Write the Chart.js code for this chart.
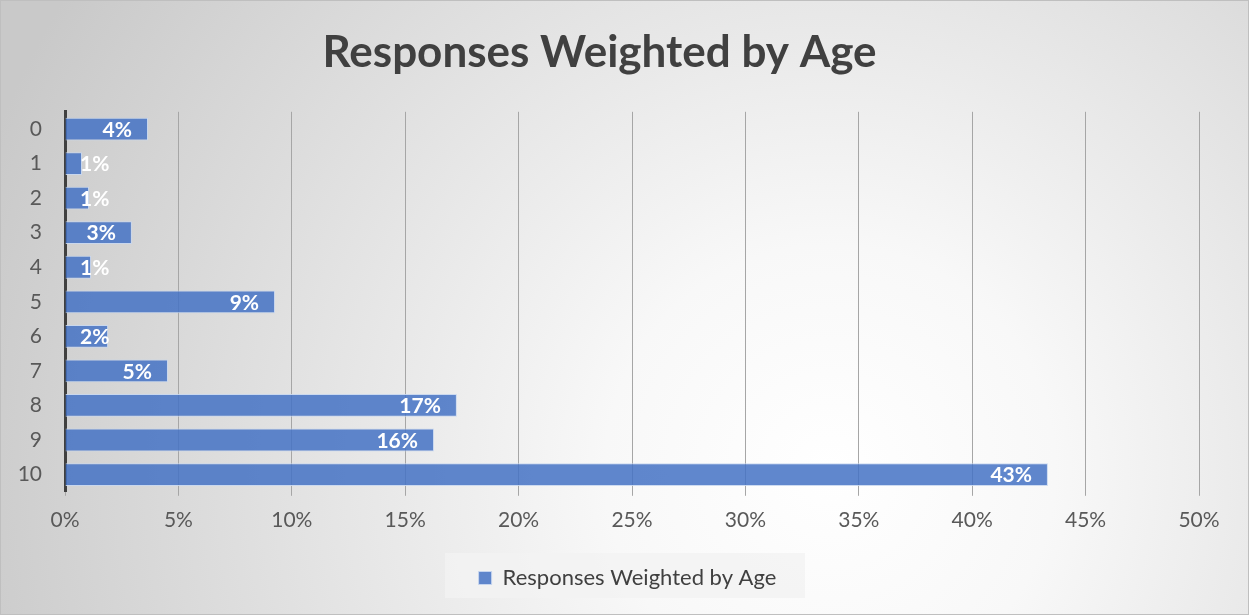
<!DOCTYPE HTML><html>
<head>
  <meta charset="utf-8">
  <script src="https://cdn.jsdelivr.net/npm/chart.js"></script>
  <style>
    html, body { margin: 0; padding: 0; background: #fff; }
    #wrap { width: 1249px; height: 615px; position: relative; }
  </style>
</head>
<body>
  <div id="wrap"><canvas id="ageChart" width="1249" height="615"></canvas></div>
<script>
  // data
  const ages = ['0', '1', '2', '3', '4', '5', '6', '7', '8', '9', '10'];
  const weightedShare = [3.66, 0.75, 1.06, 2.95, 1.15, 9.26, 1.9, 4.54, 17.28, 16.27, 43.34];
  const xTicks = [0, 5, 10, 15, 20, 25, 30, 35, 40, 45, 50];
  const seriesName = 'Responses Weighted by Age';

  const FONT = 'Lato, "Open Sans", sans-serif';

  // radial grey background + legend box
  const backdrop = {
    id: 'backdrop',
    afterLayout(chart) {
      // centre the legend on the whole canvas, not the padded area
      if (chart.legend) chart.legend.right = chart.width + 6;
    },
    beforeDraw(chart) {
      const c = chart.ctx, w = chart.width, h = chart.height;
      c.save();
      const g = c.createRadialGradient(830, 470, 0, 830, 470, 900);
      g.addColorStop(0, '#ffffff');
      g.addColorStop(0.25, '#f8f8f8');
      g.addColorStop(1, '#c9c9c9');
      c.fillStyle = g;
      c.fillRect(0, 0, w, h);
      c.strokeStyle = '#bfbfbf';
      c.lineWidth = 1;
      c.strokeRect(0.5, 0.5, w - 1, h - 1);
      c.fillStyle = 'rgba(242,242,242,0.8)';
      c.fillRect(445, 553, 360, 45);
      c.restore();
    }
  };

  // white bold labels at the inside end of each bar
  const barLabels = {
    id: 'barLabels',
    afterDatasetsDraw(chart) {
      const c = chart.ctx;
      const meta = chart.getDatasetMeta(0);
      const x0 = chart.scales.x.getPixelForValue(0);
      c.save();
      c.font = 'bold 21px ' + FONT;
      c.fillStyle = '#ffffff';
      c.textBaseline = 'middle';
      c.textAlign = 'left';
      meta.data.forEach((bar, i) => {
        const txt = Math.round(weightedShare[i]) + '%';
        const tw = c.measureText(txt).width;
        let left = bar.x - 16 - tw;
        if (left < x0 + 15) left = x0 + 15;
        c.fillText(txt, left, bar.y + 1);
      });
      c.restore();
    }
  };

  const ctx = document.getElementById('ageChart').getContext('2d');
  const ageChart = new Chart(ctx, {
    type: 'bar',
    data: {
      labels: ages,
      datasets: [{
        label: seriesName,
        data: weightedShare,
        backgroundColor: 'rgba(68,114,196,0.85)',
        borderColor: 'rgba(200,215,240,0.9)',
        borderWidth: 1,
        barPercentage: 0.66,
        categoryPercentage: 1
      }]
    },
    options: {
      indexAxis: 'y',
      responsive: false,
      animation: false,
      layout: { padding: { left: 0, right: 50, top: 6, bottom: 16 } },
      scales: {
        x: {
          min: 0,
          max: 50,
          afterBuildTicks(scale) { scale.ticks = xTicks.map(v => ({ value: v })); },
          grid: { color: '#a6a6a6', lineWidth: 1, drawTicks: true, tickLength: 4 },
          border: { display: false },
          ticks: {
            callback: v => v + '%',
            color: '#595959',
            font: { family: FONT, size: 21 },
            padding: 12,
            maxRotation: 0
          }
        },
        y: {
          afterFit(scale) { scale.width = 65; },
          grid: { display: false },
          border: { color: '#404040', width: 3 },
          ticks: {
            color: '#595959',
            font: { family: FONT, size: 21 },
            padding: 15
          }
        }
      },
      plugins: {
        title: {
          display: true,
          text: seriesName,
          color: '#404040',
          font: { family: FONT, size: 44, weight: 'bold' },
          padding: { top: 20, bottom: 33 }
        },
        legend: {
          position: 'bottom',
          labels: {
            color: '#404040',
            font: { family: FONT, size: 22 },
            boxWidth: 13,
            boxHeight: 13,
            padding: 22
          }
        },
        tooltip: { enabled: false }
      }
    },
    plugins: [backdrop, barLabels]
  });
</script>
</body>
</html>
